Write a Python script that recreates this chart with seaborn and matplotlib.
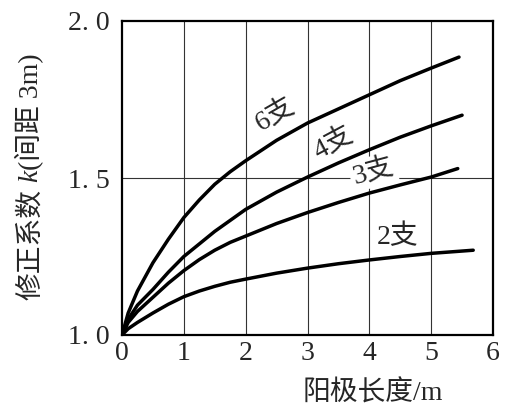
import matplotlib
matplotlib.use("Agg")
import matplotlib.pyplot as plt
import seaborn as sns
import pandas as pd

# anode length (m) vs correction factor k
x_6 = [0, 0.1, 0.25, 0.5, 0.75, 1, 1.25, 1.5, 1.75, 2, 2.5, 3, 3.5, 4, 4.5, 5, 5.45]
k_6 = [1.0, 1.07, 1.14, 1.23, 1.305, 1.374, 1.43, 1.48, 1.52, 1.555, 1.62, 1.675, 1.72, 1.765, 1.81, 1.85, 1.885]
x_4 = [0, 0.1, 0.25, 0.5, 0.75, 1, 1.25, 1.5, 1.75, 2, 2.5, 3, 3.5, 4, 4.5, 5, 5.5]
k_4 = [1.0, 1.05, 1.095, 1.145, 1.20, 1.25, 1.29, 1.33, 1.365, 1.40, 1.455, 1.503, 1.548, 1.59, 1.63, 1.666, 1.70]
x_3 = [0, 0.1, 0.25, 0.5, 0.75, 1, 1.25, 1.5, 1.75, 2, 2.5, 3, 3.5, 4, 4.5, 5, 5.43]
k_3 = [1.0, 1.04, 1.075, 1.12, 1.165, 1.205, 1.24, 1.27, 1.295, 1.315, 1.355, 1.39, 1.422, 1.452, 1.478, 1.503, 1.53]
x_2 = [0, 0.1, 0.25, 0.5, 0.75, 1, 1.25, 1.5, 1.75, 2, 2.5, 3, 3.5, 4, 4.5, 5, 5.68]
k_2 = [1.0, 1.02, 1.04, 1.07, 1.098, 1.122, 1.14, 1.155, 1.168, 1.178, 1.197, 1.213, 1.227, 1.239, 1.25, 1.26, 1.27]
series_names = ["6支", "4支", "3支", "2支"]
x_ticks = [0, 1, 2, 3, 4, 5, 6]
y_ticks = [1.0, 1.5, 2.0]
y_tick_labels = ["1. 0", "1. 5", "2. 0"]

sns.set_style("white")
mixed = ["Liberation Serif", "Noto Sans CJK SC", "DejaVu Sans"]
plt.rcParams["font.family"] = mixed

frames = []
for name, xs, ks in zip(series_names, [x_6, x_4, x_3, x_2], [k_6, k_4, k_3, k_2]):
    frames.append(pd.DataFrame({"L": xs, "k": ks, "n": name}))
df = pd.concat(frames, ignore_index=True)

W, H = 509, 412
fig = plt.figure(figsize=(W / 100, H / 100), dpi=100)
ax = fig.add_axes([122 / W, 1 - 335 / H, 371 / W, 314 / H])

# grid first so curves sit on top
for gx in x_ticks[1:-1]:
    ax.axvline(gx, color="#333333", lw=0.8, zorder=1)
ax.axhline(1.5, color="#333333", lw=0.8, zorder=1)

sns.lineplot(data=df, x="L", y="k", units="n", estimator=None, color="black",
             lw=2.5, ax=ax, legend=False, zorder=3)
for ln in ax.lines:
    ln.set_solid_joinstyle("round")

ax.set_xlim(0, 6)
ax.set_ylim(1.0, 2.0)
ax.set_xticks(x_ticks)
ax.set_yticks(y_ticks)
ax.set_yticklabels(y_tick_labels)
ax.tick_params(length=0, labelsize=20)
ax.tick_params(axis="x", pad=4)
ax.tick_params(axis="y", pad=9)
ax.set_xlabel("")
ax.set_ylabel("")
for s in ax.spines.values():
    s.set_visible(True)
    s.set_color("black")
    s.set_linewidth(1.6)

lab = dict(fontsize=20, ha="center", va="center", zorder=4)
ax.text(2.48, 1.70, "6支", rotation=30, **lab)
ax.text(3.43, 1.61, "4支", rotation=28, **lab)
ax.text(4.06, 1.52, "3支", rotation=15,
        bbox=dict(facecolor="white", edgecolor="none", pad=2), **lab)
ax.text(4.45, 1.312, "2支", rotation=0, **lab)

# x label, placed right of centre like the reference
fig.text(373 / W, 1 - 393 / H, "阳极长度/m", fontsize=20, ha="center", va="center")

# y label built from pieces so k can be italic
renderer = fig.canvas.get_renderer()
pieces = [("修正系数", "normal"), (" k", "italic"), ("(间距 3m)", "normal")]
base_x = 38 / W
y_px = H - 300
for txt, style in pieces:
    t = fig.text(base_x, y_px / H, txt, rotation=90, rotation_mode="anchor",
                 ha="left", va="baseline", fontsize=20, style=style)
    bb = t.get_window_extent(renderer)
    y_px += bb.height

fig.savefig("out.png", dpi=100)
